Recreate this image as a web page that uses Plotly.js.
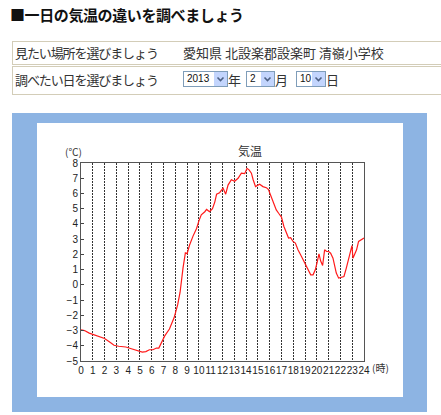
<!DOCTYPE html>
<html><head><meta charset="utf-8">
<script src="https://cdn.plot.ly/plotly-3.0.1.min.js"></script>
<style>
body{margin:0;background:#fff;width:441px;height:415px;overflow:hidden;font-family:"Noto Sans CJK JP",sans-serif;color:#222;position:relative}
.abs{position:absolute}
#h1{left:10px;top:5px;font-size:15px;font-weight:bold;line-height:20px;white-space:nowrap;color:#111;letter-spacing:-0.4px}
.row{position:absolute;left:12px;width:440px;border:1px solid #d3cdb8;box-sizing:border-box}
.t{position:absolute;font-size:13px;white-space:nowrap;line-height:16px;color:#333}
.k{letter-spacing:-1.1px}
.sel{position:absolute;top:71px;height:16px;border:1px solid #7f9db9;box-sizing:border-box;background:#fff;font-family:"Liberation Sans",Arial,sans-serif;font-size:10px;line-height:14px;padding-left:3px;color:#111}
.arr{position:absolute;right:0;top:0;width:13px;height:14px;background:#c3d5fd}
#panel{left:12px;top:113px;width:415px;height:299px;background:#8db4e3}
#inner{left:37px;top:123px;width:366px;height:274px;background:#fff}
#chart{left:37px;top:123px;width:366px;height:274px}
</style></head><body>
<div id="h1" class="abs">■一日の気温の違いを調べましょう</div>
<div class="row" style="top:41px;height:24px"></div>
<div class="row" style="top:66px;height:29px"></div>
<div class="t k" style="left:15px;top:45px">見たい場所を選びましょう</div>
<div class="t" style="left:183px;top:45px">愛知県 北設楽郡設楽町 清嶺小学校</div>
<div class="t k" style="left:15px;top:72px">調べたい日を選びましょう</div>
<div class="sel" style="left:183px;width:45px">2013<div class="arr"><svg width="13" height="14"><polyline points="3.5,5.5 6.5,8.5 9.5,5.5" fill="none" stroke="#4d6185" stroke-width="1.6"/></svg></div></div>
<div class="t" style="left:228px;top:72px">年</div>
<div class="sel" style="left:246px;width:29px">2<div class="arr"><svg width="13" height="14"><polyline points="3.5,5.5 6.5,8.5 9.5,5.5" fill="none" stroke="#4d6185" stroke-width="1.6"/></svg></div></div>
<div class="t" style="left:275px;top:72px">月</div>
<div class="sel" style="left:296px;width:30px">10<div class="arr"><svg width="13" height="14"><polyline points="3.5,5.5 6.5,8.5 9.5,5.5" fill="none" stroke="#4d6185" stroke-width="1.6"/></svg></div></div>
<div class="t" style="left:326px;top:72px">日</div>
<div id="panel" class="abs"></div>
<div id="inner" class="abs"></div>
<div id="chart" class="abs"></div>
<script>
const chartTitle = '気温';
const yUnit = '(℃)';
const xUnit = '(時)';
const hourTicks = [0,1,2,3,4,5,6,7,8,9,10,11,12,13,14,15,16,17,18,19,20,21,22,23,24];
const tempTicks = [-5,-4,-3,-2,-1,0,1,2,3,4,5,6,7,8];
const hours = [0,0.3,0.7,1.1,1.6,2.0,2.4,2.8,3.2,3.8,4.2,4.8,5.2,5.5,5.8,6.1,6.4,6.6,6.8,7.1,7.5,7.9,8.2,8.4,8.65,8.85,9.0,9.2,9.5,9.8,10.0,10.2,10.5,10.65,10.9,11.15,11.35,11.5,11.75,12.05,12.27,12.47,12.75,13.03,13.32,13.6,13.88,14.08,14.25,14.45,14.6,14.8,15.15,15.43,15.72,15.9,16.0,16.28,16.56,16.76,17.0,17.2,17.4,17.6,17.78,17.98,18.18,18.4,18.7,18.97,19.25,19.48,19.68,19.87,20.04,20.18,20.32,20.49,20.66,20.83,21.0,21.17,21.37,21.51,21.65,21.85,22.07,22.3,22.5,22.7,22.87,22.98,23.06,23.2,23.37,23.54,23.77,24.0];
const temps = [-2.95,-3.0,-3.17,-3.28,-3.4,-3.52,-3.74,-3.97,-4.03,-4.08,-4.18,-4.3,-4.42,-4.38,-4.26,-4.26,-4.15,-4.15,-3.85,-3.35,-2.9,-2.15,-1.3,-0.5,1.1,2.1,2.05,2.6,3.2,3.7,4.2,4.6,4.8,4.95,4.8,5.0,5.45,5.95,6.05,6.35,5.95,6.55,6.9,6.8,7.0,7.33,7.3,7.65,7.55,7.33,6.9,6.45,6.6,6.45,6.38,6.25,6.05,5.47,4.92,4.7,4.45,3.85,3.4,3.07,3.1,2.85,2.74,2.3,1.86,1.43,0.99,0.66,0.66,0.99,1.53,2.04,1.58,1.27,2.3,2.19,2.19,2.08,1.75,1.31,0.77,0.44,0.49,0.55,1.1,1.75,2.3,2.58,1.75,1.97,2.3,2.85,2.96,3.07];

const trace = {x: hours, y: temps, type:'scatter', mode:'lines', line:{color:'#ff1a1a', width:1.2}, hoverinfo:'skip'};
const layout = {
  width:366, height:274,
  margin:{l:44, r:39, t:40, b:36},
  paper_bgcolor:'rgba(0,0,0,0)', plot_bgcolor:'#fff',
  showlegend:false,
  font:{family:'"Liberation Sans", Arial, sans-serif', size:10, color:'#222'},
  title:{text:chartTitle, x:0.582, xanchor:'center', xref:'container', y:0.895, yanchor:'middle', yref:'container', font:{size:12, family:'"Noto Sans CJK JP", sans-serif', color:'#333'}},
  xaxis:{range:[0,24], tickvals:hourTicks, ticktext:hourTicks.map(String), tickangle:0, showgrid:true, gridcolor:'#333', griddash:'2px,1px', gridwidth:1, showline:true, mirror:true, linecolor:'#555', linewidth:1, ticks:'', zeroline:false, fixedrange:true},
  yaxis:{range:[-5,8], tickvals:tempTicks, ticktext:tempTicks.map(v=>v<0?'−'+Math.abs(v):String(v)), showgrid:false, showline:true, mirror:true, linecolor:'#555', linewidth:1, ticks:'inside', ticklen:3, tickcolor:'#444', zeroline:false, fixedrange:true},
  annotations:[
    {text:yUnit, xref:'paper', yref:'paper', x:-0.025, y:1.06, xanchor:'center', yanchor:'middle', showarrow:false, font:{size:10, family:'"Noto Sans CJK JP", sans-serif', color:'#333'}},
    {text:xUnit, xref:'paper', yref:'paper', x:1.057, y:-0.031, xanchor:'center', yanchor:'middle', showarrow:false, font:{size:10, family:'"Noto Sans CJK JP", sans-serif', color:'#333'}}
  ]
};
Plotly.newPlot('chart', [trace], layout, {staticPlot:true, displayModeBar:false});
</script>
</body></html>
